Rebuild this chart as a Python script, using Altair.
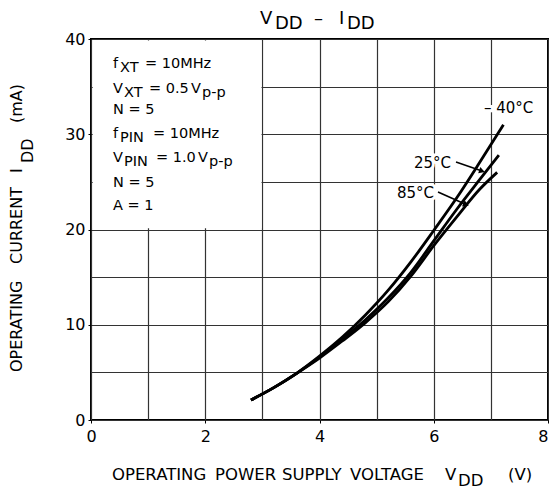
import altair as alt
import pandas as pd

FONT = "DejaVu Sans"
OX, OY = 91, 39          # page position of the plot origin (top-left)
W, H = 457, 381

# ---- data ----
temps = ["-40°C", "25°C", "85°C"]
v_m40 = [2.8, 3.2, 3.6, 4.0, 4.4, 4.8, 5.2, 5.6, 6.0, 6.4, 6.8, 7.22]
i_m40 = [2.1, 3.4, 4.9, 6.7, 8.7, 11.0, 13.6, 16.6, 19.9, 23.3, 27.0, 31.0]
v_25 = [2.8, 3.2, 3.6, 4.0, 4.4, 4.8, 5.2, 5.6, 6.0, 6.4, 6.8, 7.14]
i_25 = [2.1, 3.4, 4.9, 6.6, 8.5, 10.5, 12.8, 15.5, 18.8, 22.1, 25.2, 27.8]
v_85 = [2.8, 3.2, 3.6, 4.0, 4.4, 4.8, 5.2, 5.6, 6.0, 6.4, 6.8, 7.11]
i_85 = [2.1, 3.4, 4.9, 6.5, 8.3, 10.2, 12.4, 15.1, 18.3, 21.3, 24.2, 26.0]

x_ticks = [0, 1, 2, 3, 4, 5, 6, 7, 8]
y_ticks = [0, 5, 10, 15, 20, 25, 30, 35, 40]

rows = []
for t, vs, is_ in zip(temps, [v_m40, v_25, v_85], [i_m40, i_25, i_85]):
    for k, (v, i) in enumerate(zip(vs, is_)):
        rows.append({"V": v, "I": i, "T": t, "k": k})
curves = pd.DataFrame(rows)

xscale = alt.Scale(domain=[0, 8], nice=False, zero=False)
yscale = alt.Scale(domain=[0, 40], nice=False, zero=False)
xaxis = alt.Axis(values=x_ticks, title=None, grid=True, gridColor="#333", gridWidth=1.2,
                 domain=False, tickSize=3,
                 tickColor={"condition": {"test": "datum.value % 2 === 0", "value": "#000"}, "value": "transparent"},
                 labelExpr="datum.value % 2 === 0 ? datum.label : ''",
                 labelAlign={"condition": {"test": "datum.value === 8", "value": "right"}, "value": "center"},
                 labelFont=FONT, labelFontSize=16, labelColor="#000", labelPadding=5,
                 labelFlush=False, labelOverlap=False)
yaxis = alt.Axis(values=y_ticks, title=None, grid=True, gridColor="#333", gridWidth=1.2,
                 domain=False, tickSize=3,
                 tickColor={"condition": {"test": "datum.value % 10 === 0", "value": "#000"}, "value": "transparent"},
                 labelExpr="datum.value % 10 === 0 ? datum.label : ''",
                 labelFont=FONT, labelFontSize=16, labelColor="#000", labelPadding=3,
                 labelFlush=False, labelOverlap=False)


def X(f):
    return alt.X(f, type="quantitative", scale=xscale, axis=xaxis)


def Y(f):
    return alt.Y(f, type="quantitative", scale=yscale, axis=yaxis)


one = alt.Data(values=[{"a": 1}])


def txt(s, x, y, size, angle=0, halo=False):
    kw = dict(text=s, font=FONT, fontSize=size, align="left", baseline="alphabetic", angle=angle)
    if halo:
        kw.update(color="white", stroke="white", strokeWidth=6)
    else:
        kw.update(color="black")
    return alt.Chart(one).mark_text(**kw).encode(x=alt.value(x - OX), y=alt.value(y - OY))


# white legend box covering the grid
box = pd.DataFrame({"x0": [0.03], "x1": [2.985], "y0": [20.12], "y1": [39.85]})
box_layer = alt.Chart(box).mark_rect(fill="white").encode(
    x=X("x0"), x2="x1", y=Y("y0"), y2="y1")

# temperature labels (with white halo masking the grid)
labels = [("– 40°C", 484, 113), ("25°C", 414, 168), ("85°C", 397, 198)]
halo_layers = [txt(s, x, y, 15, halo=True) for s, x, y in labels]
label_layers = [txt(s, x, y, 15) for s, x, y in labels]

line_layer = alt.Chart(curves).mark_line(interpolate="monotone", color="black", strokeWidth=2.8,
                                          strokeCap="butt").encode(
    x=X("V"), y=Y("I"), detail="T:N", order="k:Q")


# leader arrows (page px converted to data units)
def pv(px):
    return (px - OX) / (W / 8)


def pi(py):
    return (OY + H - py) / (H / 40)


arrows = pd.DataFrame({
    "xa": [pv(456), pv(438)], "ya": [pi(162), pi(192)],
    "xb": [pv(482), pv(466)], "yb": [pi(171), pi(204.5)],
    "ang": [17.8, 23.4],
})
arrow_rule = alt.Chart(arrows).mark_rule(color="black", strokeWidth=1.6).encode(
    x=X("xa"), y=Y("ya"), x2="xb", y2="yb")
arrow_head = alt.Chart(arrows).mark_point(shape="triangle-right", filled=True, color="black",
                                          size=45, opacity=1).encode(
    x=X("xb"), y=Y("yb"), angle=alt.Angle("ang:Q", scale=None))

# title
title_runs = [("V", 260, 23.5), ("DD", 275, 28.5), ("–", 314, 23.5), ("I", 339, 23.5), ("DD", 347, 28.5)]
title_layers = [txt(s, x, y, 18) for s, x, y in title_runs]

# conditions box
box_runs = [
    ("f", 113, 68), ("XT", 120, 72), ("= 10MHz", 145, 68),
    ("V", 113, 93), ("XT", 124, 97), ("= 0.5", 149, 93), ("V", 191, 93), ("p-p", 202, 97),
    ("N = 5", 113, 114),
    ("f", 113, 138), ("PIN", 120, 142), ("= 10MHz", 153, 138),
    ("V", 113, 162), ("PIN", 124, 166), ("= 1.0", 156, 162), ("V", 198, 162), ("p-p", 209, 166),
    ("N = 5", 113, 187),
    ("A = 1", 113, 210),
]
box_layers = [txt(s, x, y, 14.5) for s, x, y in box_runs]

# x axis title
xt_runs = [("OPERATING", 112, 480), ("POWER", 215, 480), ("SUPPLY", 282, 480), ("VOLTAGE", 350, 480),
           ("V", 445, 480), ("DD", 458, 486), ("(V)", 508, 480)]
xt_layers = [txt(s, x, y, 16.5) for s, x, y in xt_runs]

# y axis title (rotated)
yt_runs = [("OPERATING", 22, 372), ("CURRENT", 22, 264), ("I", 22, 173), ("DD", 33, 163), ("(mA)", 22, 123)]
yt_layers = [txt(s, x, y, 16, angle=270) for s, x, y in yt_runs]

chart = alt.layer(
    box_layer, *halo_layers, line_layer, arrow_rule, arrow_head, *label_layers,
    *title_layers, *box_layers, *xt_layers, *yt_layers
).properties(
    width=W, height=H,
    autosize=alt.AutoSizeParams(type="none"),
    padding={"left": OX - 8, "top": OY - 8, "right": 541 - (OX - 8) - W, "bottom": 490 - OY - H},
    background="white",
).configure_view(stroke="black", strokeWidth=2)

chart.save("out.html", embed_options={"renderer": "svg", "actions": False})
